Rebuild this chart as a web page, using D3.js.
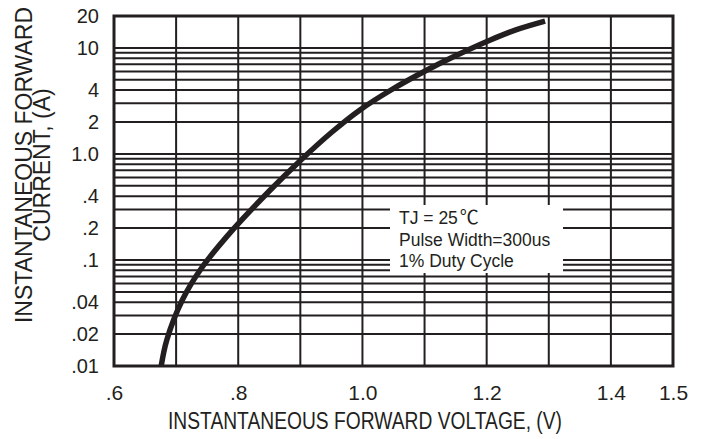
<!DOCTYPE html>
<html>
<head>
<meta charset="utf-8">
<script src="https://cdn.jsdelivr.net/npm/d3@7"></script>
<style>
  html, body { margin: 0; padding: 0; background: #ffffff; }
  svg { display: block; }
  text { font-family: "Liberation Sans", Arial, Helvetica, sans-serif; fill: #231f20; }
</style>
</head>
<body>
<svg id="chart" width="708" height="439"></svg>
<script>
// ---- data ----
const voltage = [0.676, 0.685, 0.710, 0.741, 0.791, 0.850, 0.901, 0.951, 0.996, 1.046, 1.104, 1.149, 1.206, 1.247, 1.294];
const current = [0.01, 0.0176, 0.0419, 0.084, 0.192, 0.447, 0.877, 1.61, 2.60, 4.01, 6.19, 8.39, 11.9, 14.8, 17.9];

const xTickValues = [0.6, 0.8, 1.0, 1.2, 1.4, 1.5];
const xTickLabels = [".6", ".8", "1.0", "1.2", "1.4", "1.5"];
const yTickValues = [20, 10, 4, 2, 1, 0.4, 0.2, 0.1, 0.04, 0.02, 0.01];
const yTickLabels = ["20", "10", "4", "2", "1.0", ".4", ".2", ".1", ".04", ".02", ".01"];

const xTitle = "INSTANTANEOUS FORWARD VOLTAGE, (V)";
const yTitleLines = ["INSTANTANEOUS FORWARD", "CURRENT, (A)"];
const noteLines = ["TJ = 25", "Pulse Width=300us", "1% Duty Cycle"];

// ---- layout ----
const ink = "#231f20";
const svg = d3.select("#chart");
const mLeft = 114, mRight = 673, mTop = 16, mBottom = 366;

const x = d3.scaleLinear().domain([0.6, 1.5]).range([mLeft, mRight]);
const y = d3.scaleLog().domain([0.01, 20]).range([mBottom, mTop]);

// vertical grid lines every 0.1 V
const xGrid = d3.range(0, 10).map(i => +(0.6 + i * 0.1).toFixed(1));
svg.append("g").selectAll("line").data(xGrid).join("line")
  .attr("x1", d => x(d)).attr("x2", d => x(d))
  .attr("y1", mTop).attr("y2", mBottom)
  .attr("stroke", ink).attr("stroke-width", 2);

// horizontal grid lines at 1..9 x 10^k
const yGrid = y.ticks().filter(d => d >= 0.01 && d <= 10);
svg.append("g").selectAll("line").data(yGrid).join("line")
  .attr("x1", mLeft).attr("x2", mRight)
  .attr("y1", d => y(d)).attr("y2", d => y(d))
  .attr("stroke", ink).attr("stroke-width", 2);

// note box (white background hiding grid)
svg.append("rect")
  .attr("x", 390).attr("y", 205).attr("width", 173).attr("height", 68)
  .attr("fill", "#ffffff");

// frame
svg.append("rect")
  .attr("x", mLeft).attr("y", mTop).attr("width", mRight - mLeft).attr("height", mBottom - mTop)
  .attr("fill", "none").attr("stroke", ink).attr("stroke-width", 3);

// curve
const pts = voltage.map((v, i) => [v, current[i]]);
const line = d3.line().x(d => x(d[0])).y(d => y(d[1])).curve(d3.curveCatmullRom.alpha(0.5));
svg.append("path").datum(pts)
  .attr("d", line)
  .attr("fill", "none").attr("stroke", ink).attr("stroke-width", 5.5)
  .attr("stroke-linecap", "butt");

// axes (labels only)
const xAxis = d3.axisBottom(x).tickValues(xTickValues)
  .tickFormat((d, i) => xTickLabels[i]).tickSize(0).tickPadding(19);
const gx = svg.append("g").attr("transform", `translate(0,${mBottom})`).call(xAxis);
gx.select(".domain").remove();
gx.selectAll("text").style("font-family", "'Liberation Sans', Arial, sans-serif")
  .style("font-size", "21px").attr("fill", ink);

const yAxis = d3.axisLeft(y).tickValues(yTickValues)
  .tickFormat((d, i) => yTickLabels[i]).tickSize(0).tickPadding(15);
const gy = svg.append("g").attr("transform", `translate(${mLeft},0)`).call(yAxis);
gy.select(".domain").remove();
gy.selectAll("text").style("font-family", "'Liberation Sans', Arial, sans-serif")
  .style("font-size", "20px").attr("fill", ink);

// axis titles
svg.append("text")
  .attr("x", 365).attr("y", 429)
  .attr("text-anchor", "middle")
  .attr("textLength", 394).attr("lengthAdjust", "spacingAndGlyphs")
  .style("font-size", "23px")
  .text(xTitle);

const yt = svg.append("text")
  .attr("transform", "translate(32,165) rotate(-90)")
  .attr("text-anchor", "middle")
  .style("font-size", "23px");
yt.append("tspan").attr("x", 0).attr("y", 0).text(yTitleLines[0]);
yt.append("tspan").attr("x", 0).attr("y", 18).text(yTitleLines[1]);

// note text
const note = svg.append("g").style("font-size", "17.5px");
const t1 = note.append("text").attr("x", 399).attr("y", 224);
t1.append("tspan").text(noteLines[0]);
t1.append("tspan").attr("dx", 2)
  .style("font-family", "'Noto Sans CJK SC', 'DejaVu Sans', sans-serif")
  .style("font-size", "19px").text("\u2103");
note.append("text").attr("x", 399).attr("y", 246).text(noteLines[1]);
note.append("text").attr("x", 399).attr("y", 267).text(noteLines[2]);
</script>
</body>
</html>
